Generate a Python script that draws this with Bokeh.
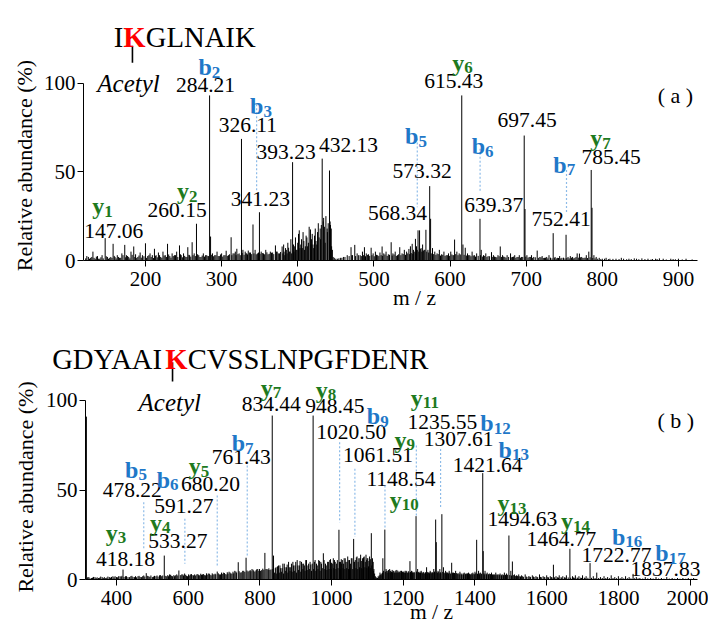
import math
from bokeh.plotting import figure
from bokeh.models import ColumnDataSource, Label, FixedTicker, Range1d
from bokeh.layouts import column
from bokeh.embed import file_html
from bokeh.resources import INLINE
from bokeh.core.properties import value

FONT = "Liberation Serif"
BLUE = "#1f78c8"
GREEN = "#1e7a1e"
DASH = "#8dbbe8"

# ---------------- panel (a) data ----------------
top_mz = [
    125, 128, 131, 134, 137, 140, 143, 147.06, 150, 153,
    157.5, 160, 163, 166, 169, 172.8, 175, 178, 181, 184.6,
    187, 190, 193, 196, 200, 203, 206, 209, 211.8, 214,
    217, 220, 223, 226, 229, 232, 235, 238, 241, 244.7,
    247, 250, 253, 255.6, 258, 261.3, 264, 267, 270, 273,
    276, 279, 282, 284.21, 285.5, 288, 291, 294, 297, 300,
    303, 306, 309, 312.5, 315, 318, 320, 323, 326.11, 328,
    331, 333, 335, 338, 341.23, 344, 347, 349.7, 352, 355,
    358, 361, 364, 367, 370.7, 373, 376, 379.5, 382, 385,
    388, 390, 393.23, 396, 398, 400, 402, 404, 406, 408,
    410, 412, 414, 416.7, 418, 420, 422, 424, 426, 428,
    429.5, 431, 432.13, 433.5, 435, 437, 438.6, 440, 441.7, 443,
    444, 445.5, 448, 452, 456, 460, 465, 470, 472, 474.9,
    478, 482, 485, 487.6, 490, 493, 496.4, 499, 502, 505,
    508, 510.8, 513, 516, 519, 522.7, 525, 528, 531, 534,
    537, 540, 543, 546, 548, 550.3, 552, 554.6, 556, 558,
    560, 562, 564, 566, 568.34, 571, 573.32, 574.5, 577, 580,
    583, 586, 589, 592, 595, 598, 601, 604, 606, 609,
    612, 615.43, 617, 620, 623, 626, 629, 632, 635, 639.37,
    641, 644, 647, 650, 654.5, 657, 660, 663, 666, 669,
    672, 675, 679.5, 682, 685, 688, 691, 694, 697.45, 698.5,
    701, 704, 707, 710, 714.5, 718, 721, 724, 727, 730,
    735.5, 738, 741, 744, 747, 752.41, 755, 758, 761, 764,
    767, 770, 773, 776, 779, 782.3, 785.45, 786.5, 789, 792,
    796, 800, 805, 810, 818, 825, 835, 845, 852, 860,
    870, 880, 890, 900, 910, 866, 875, 893, 842, 828,
]
top_int = [
    2, 1.5, 5, 1, 2.5, 1, 3, 12.6, 2, 1.5,
    9.4, 2, 3, 1.5, 4, 8.8, 3, 2, 5, 7.9,
    3.5, 2, 4.5, 3, 9.7, 2.5, 4, 3, 6.6, 3,
    4.5, 2, 5, 3, 9.4, 2.5, 4, 3, 5, 8.5,
    3, 4, 2, 7.5, 3, 10.3, 4, 20.7, 3, 2,
    4, 3, 2.5, 93, 13.5, 4, 3, 5, 2.5, 4,
    3, 5.5, 3, 13.1, 4, 5, 6.6, 4, 68.5, 6,
    5, 4, 5.6, 4.5, 20.3, 6, 4, 27.2, 5, 4,
    6, 3.5, 5, 4.5, 8.5, 5, 4, 7.9, 5, 6,
    7.2, 5, 55.4, 8, 6, 10, 17, 9, 7, 11,
    8, 13, 10, 17.5, 12, 9, 14, 11, 16, 13,
    18, 20, 57.4, 22, 19, 25, 18, 21, 50.7, 20,
    18, 6, 1.5, 1, 1.5, 2, 3, 7.5, 3, 8.8,
    4, 3, 5, 7.5, 4, 3.5, 7.2, 4, 5, 3,
    4.5, 7.9, 4, 5, 3.5, 10.3, 4, 5, 3, 7.5,
    4, 6, 5, 6.5, 8, 9.4, 6, 12.2, 8, 17,
    17, 7, 9, 6, 17.3, 6, 41.9, 23.5, 7, 5,
    4, 6, 3.5, 5, 3, 4, 5, 3, 11.8, 5,
    4, 93, 9, 7.2, 4, 3, 5, 3, 4, 23.5,
    6, 3, 4, 2.5, 4.7, 3, 2, 3, 7.9, 3,
    2, 3, 4, 2, 3, 2, 3, 2, 70.4, 29,
    3, 2, 3, 2, 5.6, 2, 2.5, 1.5, 2, 3,
    15.4, 2, 1.5, 2.5, 1.5, 14.5, 2, 2.5, 2, 1.5,
    4, 3.9, 2, 1.5, 3, 5, 51, 29.7, 3, 2,
    1.5, 1, 1.5, 1, 1, 1.5, 1, 1, 1.2, 1,
    1, 1, 1, 1, 1, 0.8, 1.2, 0.8, 1.2, 1,
]
# low-level background lines of spectrum (a), (m/z, %)
top_noise = [
    (121.5, 1.2), (123, 2.5), (126.5, 1), (129.5, 2), (132.5, 1.5), (135.5, 2.2), (138.5, 1),
    (141.5, 1.8), (144.5, 1.2), (148.5, 2.4), (151.5, 1), (154.5, 2), (156, 1.4), (159, 2.6),
    (161.5, 1.2), (164.5, 2), (167.5, 1.5), (170.5, 3), (174, 1.8), (176.5, 2.5), (179.5, 1.2),
    (182.5, 3.2), (186, 2), (188.5, 1.5), (191.5, 2.8), (194.5, 1.6), (198, 2.4), (201.5, 1.5),
    (204.5, 3), (207.5, 2), (210.5, 1.4), (213, 2.6), (215.5, 1.8), (218.5, 3), (221.5, 1.5),
    (224.5, 2.8), (227.5, 2), (230.5, 3.4), (233.5, 1.6), (236.5, 2.5), (239.5, 3), (242.5, 2),
    (246, 3.5), (248.5, 1.8), (251.5, 2.6), (254.5, 2), (257, 3.2), (259.5, 2.2), (262.5, 3),
    (265.5, 2.5), (268.5, 3.5), (271.5, 2), (274.5, 2.8), (277.5, 2.2), (280.5, 3), (283, 2.5),
    (286.5, 3.2), (289.5, 2.4), (292.5, 3), (295.5, 2.5), (298.5, 3.4), (301.5, 2.2), (304.5, 3),
    (307.5, 2.6), (310.5, 3.5), (313.5, 3), (316.5, 4), (319, 3), (321.5, 3.6), (324.5, 3),
    (327, 4.2), (329.5, 3.2), (332, 4), (334, 3.4), (336.5, 4.5), (339.5, 3.6), (342.5, 4),
    (345.5, 3.5), (348.5, 4.5), (350.5, 3.8), (353.5, 4.2), (356.5, 3.5), (359.5, 4.6),
    (362.5, 3.8), (365.5, 4.4), (368.5, 3.6), (372, 5), (374.5, 4), (377.5, 4.8),
    (380.5, 4), (381.5, 9), (383, 3), (384, 7), (386, 4), (387, 10), (389, 5), (391, 12),
    (392, 4), (394.5, 9), (395, 5), (397, 13), (399, 6), (401, 15), (403, 7), (405, 12),
    (407, 16), (409, 6), (411, 14), (413, 8), (415, 19), (417.5, 9), (419, 15), (421, 7),
    (423, 18), (425, 9), (427, 21), (430, 12), (434, 24), (436, 10), (439, 16), (442.5, 22),
    (444.5, 8),
    (446.5, 2), (450, 1), (454, 1.2), (458, 1.5), (462, 2), (467.5, 2.5), (471, 3), (476, 2.5),
    (480, 3), (483.5, 2.5), (486.5, 3), (489, 2.4), (491.5, 3.2), (494.5, 2.6), (497.5, 3),
    (500.5, 2.4), (503.5, 3.2), (506.5, 2.5), (509.5, 3), (511.5, 2.6), (514.5, 3.4),
    (517.5, 2.6), (520.5, 3.2), (524, 2.8), (526.5, 3.4), (529.5, 2.6), (532.5, 3.5),
    (535.5, 3), (538.5, 3.6), (541.5, 3.2), (544.5, 4), (547, 3.6), (549, 4.2), (551, 3.8),
    (553, 5), (555, 4.5), (557, 6), (559, 5), (561, 6.5), (563, 5), (565, 5.5), (567, 6),
    (569.5, 5), (572, 4.5), (576, 4), (578.5, 3.6), (581.5, 3.2), (584.5, 3.6), (587.5, 2.8),
    (590.5, 3.2), (593.5, 2.6), (596.5, 3), (599.5, 2.6), (602.5, 3.4), (605, 3), (607.5, 3.6),
    (610.5, 3), (613.5, 3.4), (618.5, 3.2), (621.5, 2.8), (624.5, 3), (627.5, 2.4),
    (630.5, 2.8), (633.5, 2.2), (637, 2.6), (640, 3), (642.5, 2.2), (645.5, 2.6), (648.5, 2),
    (652, 2.4), (655.5, 2), (658.5, 2.2), (661.5, 1.8), (664.5, 2.4), (667.5, 2), (670.5, 2.2),
    (673.5, 1.6), (677, 2), (680.5, 1.8), (683.5, 2.2), (686.5, 1.5), (689.5, 2), (692.5, 1.6),
    (695.5, 2), (699.5, 2.2), (702.5, 1.6), (705.5, 2), (708.5, 1.5), (712, 1.8), (716, 1.5),
    (719.5, 1.8), (722.5, 1.4), (725.5, 1.6), (728.5, 1.2), (732, 1.6), (734, 1.2), (737, 1.5),
    (739.5, 1.2), (742.5, 1.4), (745.5, 1.2), (749, 1.6), (751, 1.2), (753.5, 1.4),
    (756.5, 1.2), (759.5, 1.6), (762.5, 1.2), (765.5, 2), (768.5, 1.6), (771.5, 1.8),
    (774.5, 1.4), (777.5, 1.6), (780.5, 1.4), (784, 1.8), (787.5, 1.4), (790.5, 1.2), (794, 1),
    (798, 0.8), (803, 1), (808, 0.8), (814, 0.9), (822, 0.8), (832, 0.7), (838, 0.8),
    (848, 0.7), (856, 0.8), (864, 0.6), (872, 0.8), (884, 0.6), (896, 0.7), (905, 0.6),
    (918, 0.6),
]
top_xticks = [200, 300, 400, 500, 600, 700, 800, 900]

top_num_text = ["147.06", "260.15", "284.21", "326.11", "341.23", "393.23", "432.13",
                "568.34", "573.32", "615.43", "639.37", "697.45", "752.41", "785.45"]
top_num_x = [158.4, 241.6, 278.8, 334.4, 351, 384.8, 466.6, 531, 563.4, 604.9, 657.4, 701.3, 746, 811.6]
top_num_y = [16.9, 28.2, 98.6, 76.1, 34.4, 61, 64.8, 26.6, 50.7, 101.4, 31.5, 79.4, 23.5, 58.2]

top_ion_letter = ["y", "y", "b", "b", "b", "y", "b", "y", "b"]
top_ion_sub = ["1", "2", "2", "3", "5", "6", "6", "7", "7"]
top_ion_x = [130.1, 241.4, 269.5, 337.4, 541, 603, 628.4, 784.2, 735.7]
top_ion_y = [30.5, 39, 109, 87, 70, 111.3, 64.3, 69, 54]

top_dash_x = [346, 557, 639.5, 753]
top_dash_top = [88, 68.7, 63, 51]
top_dash_bot = [39.4, 30, 39, 26.3]

# ---------------- panel (b) data ----------------
bot_mz = [
    316, 320, 330, 340, 350, 360, 370, 380, 390, 400,
    410, 418.18, 425, 432, 440, 450, 460, 470, 483, 490,
    500, 510, 520, 533.27, 540, 548, 556, 565, 574, 582,
    590, 598, 606, 615, 624, 632, 640, 648, 656, 664,
    672, 681, 690, 698, 706, 714, 722, 730, 739.6, 745,
    752, 761.43, 770, 778, 786, 794, 802, 813.9, 820, 828,
    834.44, 838, 845, 852, 858, 864, 870, 876, 882, 888,
    894, 900, 906, 912, 918, 924, 930, 936, 942, 948.45,
    952, 958, 964, 970, 977, 983, 989, 995, 1000, 1004.8,
    1010, 1016, 1020.5, 1025, 1030, 1035, 1040, 1045, 1050, 1055,
    1061.51, 1066, 1071, 1076, 1081, 1086, 1091, 1096, 1101, 1106,
    1110.8, 1114, 1118, 1122, 1126, 1130, 1135, 1140, 1143, 1148.54,
    1152, 1157, 1162, 1167, 1172, 1177, 1182, 1188, 1193, 1198,
    1203, 1208, 1213, 1218.6, 1223, 1228, 1235.55, 1240, 1245, 1250,
    1255, 1260, 1265, 1270, 1275, 1280, 1285, 1290.3, 1292, 1297,
    1302, 1307.61, 1312, 1318, 1323, 1328, 1335, 1340, 1346, 1352,
    1358, 1364, 1370, 1376, 1382, 1388, 1394, 1400, 1404.7, 1410,
    1415, 1421.64, 1423, 1428, 1434, 1440, 1446, 1452, 1458, 1464,
    1470, 1476, 1482, 1488, 1494.63, 1500, 1504.3, 1510, 1516, 1522,
    1530, 1540, 1550, 1560, 1570, 1580, 1590, 1600, 1610, 1618.8,
    1626, 1635, 1645, 1655, 1664.77, 1672, 1680, 1690, 1700, 1710,
    1721, 1730, 1739.7, 1750, 1760, 1770, 1780, 1790, 1800, 1810,
    1820, 1830, 1841, 1850, 1860, 1875, 1890, 1905, 1920, 1935,
    1950, 1965, 1980, 1995, 2010, 1028, 1063, 1098, 1133, 1183,
]
bot_int = [
    91, 1.5, 1, 1.5, 1, 1.5, 1, 1.5, 2, 1.5,
    2, 5.7, 2, 1.5, 2, 1.5, 2, 1.5, 3.7, 2,
    1.5, 2, 2.5, 13.5, 2, 3, 2, 2.5, 5.2, 3,
    3.5, 2, 3, 2.5, 3, 2.5, 3, 2.5, 3.5, 2.5,
    3, 4.6, 3, 4, 3, 4.5, 3.5, 5, 9.8, 4,
    5, 12.3, 5, 6, 4.5, 6, 5, 15, 6, 5.5,
    91.6, 13.5, 7, 8, 6.5, 9, 7, 8.5, 7, 9,
    8, 10, 8, 10.5, 9, 8, 11, 9, 8.5, 91.6,
    10, 9, 11, 10, 14.8, 9, 10, 11, 9.5, 12,
    10, 11, 27.9, 10, 11, 12, 10, 13, 11, 12,
    22.8, 11, 13, 12, 14, 12, 13, 14, 12, 13,
    26, 12, 6, 2, 1, 2, 4, 3.5, 12, 28,
    6, 5, 6, 4.5, 5, 4, 5.5, 4, 5, 4.5,
    4, 5, 4, 10.4, 5, 4, 35.5, 6, 4, 5,
    4, 3.5, 7, 4, 5, 4, 6, 33.6, 21, 5,
    6, 36.6, 7, 5, 4, 5, 9.5, 4, 5, 3.5,
    4.5, 3, 4, 3.5, 4, 3, 4, 4.5, 22.3, 5,
    4, 59.5, 16, 5, 4, 3.5, 4, 3, 4, 3,
    3.5, 3, 4, 3.5, 24.7, 5, 10.2, 3, 2.5, 3,
    2.5, 3, 2, 2.5, 2, 3, 2, 2.5, 2, 8.4,
    2, 2.5, 2, 2.5, 17.3, 2, 2.5, 2, 2.5, 2,
    9.3, 2, 4, 1.5, 2, 1.5, 2.5, 1.5, 2, 1.5,
    2, 1.5, 3.3, 1.5, 1, 1.5, 1, 1.5, 1, 1.5,
    1, 1, 1, 1, 1, 9, 10, 11, 2.5, 4,
]
# low-level background lines of spectrum (b), (m/z, %)
bot_noise = [
    (318, 1), (323, 1.5), (326, 0.8), (333, 1.2), (336, 1.6), (343, 1), (346, 1.4), (353, 1.2),
    (356, 1.8), (363, 1), (366, 1.5), (373, 1.2), (376, 1.8), (383, 1.2), (386, 1.6), (393, 1.4),
    (396, 2), (403, 1.4), (406, 2), (413, 1.6), (415, 2.2), (421, 1.6), (428, 2), (436, 1.5),
    (443, 2.2), (446, 1.6), (453, 2), (456, 1.4), (463, 2.2), (466, 1.6), (473, 2), (476, 2.4),
    (479, 1.8), (486, 2.2), (493, 1.6), (496, 2.4), (503, 1.8), (506, 2.2), (513, 2.4),
    (516, 1.8), (523, 2.6), (526, 2), (529, 2.4), (536, 2.2), (543, 2.6), (545, 2), (551, 2.8),
    (553, 2.2), (560, 2.6), (562, 2), (568, 3), (571, 2.4), (578, 2.6), (585, 3), (587, 2.4),
    (593, 2.8), (595, 2.2), (601, 3), (603, 2.4), (609, 3.2), (611, 2.6), (618, 3), (620, 2.4),
    (627, 3.2), (629, 2.6), (635, 3.4), (637, 2.8), (643, 3.2), (645, 2.6), (651, 3.6),
    (653, 2.8), (659, 3.4), (661, 2.8), (667, 3.6), (669, 3), (675, 3.4), (677, 3), (684, 3.6),
    (687, 3), (693, 4), (695, 3.2), (701, 3.8), (703, 3.2), (709, 4.2), (711, 3.4), (717, 4),
    (719, 3.4), (725, 4.5), (727, 3.6), (733, 4.6), (735, 4), (742, 4.8), (748, 4.2), (755, 5),
    (758, 4.4), (764, 5.2), (767, 4.6), (773, 5.4), (775, 4.8), (781, 5.6), (783, 5), (789, 5.2),
    (791, 5.8), (797, 5), (799, 6), (805, 5.4), (808, 6.2), (811, 5.6), (817, 6), (823, 5.6),
    (825, 6.4), (831, 5.8), (836, 6),
    (841, 4), (843, 6.5), (847, 3.5), (849, 7.5), (854, 4), (856, 8), (860, 4.5), (862, 6.5),
    (866, 3.5), (868, 9), (872, 5), (874, 7), (878, 4), (880, 10), (884, 5), (886, 7),
    (890, 4.5), (892, 10), (896, 5), (898, 8), (902, 4), (904, 11), (908, 5.5), (910, 8),
    (914, 4.5), (916, 10), (920, 6), (922, 9), (926, 5), (928, 11), (932, 5.5), (934, 8),
    (938, 6), (940, 10), (944, 5), (946, 9), (950, 6), (954, 11), (956, 5), (960, 8),
    (962, 6), (966, 10.5), (968, 5), (972, 9), (974, 6.5), (979, 11), (981, 6), (985, 8),
    (987, 5.5), (991, 10), (993, 6), (997, 11.5), (999, 6), (1002, 9), (1006, 6.5), (1008, 11),
    (1012, 6), (1014, 9), (1018, 6.5), (1022, 10), (1024, 6), (1027, 11.5), (1032, 6.5),
    (1033, 9), (1037, 6), (1038, 12), (1042, 6.5), (1043, 10), (1047, 6), (1048, 11),
    (1052, 6.5), (1053, 9), (1057, 12), (1059, 6), (1063.5, 10), (1068, 6.5), (1069, 12.5),
    (1073, 6), (1074, 10), (1078, 7), (1079, 12), (1083, 6.5), (1084, 10.5), (1088, 6),
    (1089, 12.5), (1093, 7), (1094, 10), (1098.5, 6.5), (1099, 12), (1103, 7.5), (1104, 10.5),
    (1108, 6.5), (1109, 11.5), (1112, 8), (1116, 10), (1117, 5), (1120, 3.5), (1124, 1.5),
    (1128, 1), (1132, 1.5), (1137, 3), (1138, 2.5), (1142, 4), (1145, 5),
    (1150, 4.5), (1154, 5), (1155, 4), (1159, 5.5), (1160, 4), (1164, 5), (1165, 4),
    (1169, 5.5), (1170, 4.2), (1174, 4.8), (1175, 4), (1179, 5.2), (1180, 4), (1185, 5),
    (1186, 4.2), (1190, 4.6), (1191, 4), (1195, 5), (1196, 4), (1200, 4.6), (1201, 4),
    (1205, 5), (1206, 4), (1210, 4.6), (1211, 3.8), (1215, 4.8), (1216, 4), (1220, 4.4),
    (1221, 3.8), (1225, 4.6), (1226, 3.8), (1230, 4.4), (1232, 4), (1237, 4.6), (1238, 4),
    (1242, 4.4), (1243, 3.8), (1247, 4.6), (1248, 3.8), (1252, 4.2), (1253, 3.6), (1257, 4.4),
    (1258, 3.6), (1262, 4.2), (1263, 3.6), (1267, 4.4), (1268, 3.6), (1272, 4.2), (1273, 3.6),
    (1277, 4.4), (1278, 3.6), (1282, 4.2), (1283, 3.8), (1287, 4.6), (1288, 3.8), (1294, 4.4),
    (1295, 3.8), (1299, 4.4), (1300, 3.6), (1304, 4.2), (1305, 3.6), (1310, 4.4), (1314, 4),
    (1316, 3.6), (1320, 4.2), (1321, 3.6), (1325, 4), (1326, 3.4), (1330, 4), (1332, 3.4),
    (1337, 4), (1338, 3.4), (1343, 3.8), (1344, 3.2), (1349, 3.8), (1350, 3.2), (1355, 3.6),
    (1356, 3), (1361, 3.6), (1362, 3), (1367, 3.6), (1368, 3), (1373, 3.4), (1374, 3),
    (1379, 3.6), (1380, 3), (1385, 3.4), (1386, 3), (1391, 3.6), (1392, 3), (1397, 3.4),
    (1398, 3), (1402, 3.6), (1407, 3.4), (1412, 3.6), (1413, 3), (1418, 3.4), (1425, 3.6),
    (1426, 3), (1431, 3.4), (1432, 3), (1437, 3.2), (1438, 2.8), (1443, 3.2), (1444, 2.8),
    (1449, 3), (1450, 2.6), (1455, 3), (1456, 2.6), (1461, 3), (1462, 2.6), (1467, 3),
    (1468, 2.6), (1473, 2.8), (1474, 2.4), (1479, 2.8), (1480, 2.4), (1485, 2.8), (1486, 2.4),
    (1491, 2.8), (1497, 2.6), (1502, 2.4), (1507, 2.6), (1512, 2.2), (1514, 2), (1519, 2.2),
    (1520, 1.8), (1525, 2), (1527, 1.8), (1533, 2), (1535, 1.6), (1543, 1.8), (1545, 1.6),
    (1553, 1.8), (1555, 1.5), (1563, 1.8), (1565, 1.5), (1573, 1.6), (1575, 1.4), (1583, 1.6),
    (1585, 1.4), (1593, 1.6), (1595, 1.4), (1603, 1.5), (1605, 1.3), (1613, 1.5), (1615, 1.3),
    (1622, 1.4), (1630, 1.4), (1633, 1.2), (1640, 1.4), (1642, 1.2), (1650, 1.4), (1652, 1.2),
    (1660, 1.3), (1667, 1.2), (1675, 1.3), (1677, 1.1), (1685, 1.2), (1687, 1.1), (1695, 1.2),
    (1697, 1), (1705, 1.2), (1707, 1), (1715, 1.1), (1725, 1.1), (1735, 1), (1745, 1),
    (1755, 1), (1765, 1), (1775, 0.9), (1785, 1), (1795, 0.9), (1805, 0.9), (1815, 0.8),
    (1825, 0.9), (1835, 0.8), (1845, 0.8), (1855, 0.8), (1868, 0.7), (1882, 0.8), (1897, 0.7),
    (1912, 0.7), (1927, 0.6), (1942, 0.7), (1957, 0.6), (1972, 0.6), (1988, 0.6), (2003, 0.6),
    (2016, 0.5),
]
bot_xticks = [400, 600, 800, 1000, 1200, 1400, 1600, 1800, 2000]

bot_num_text = ["418.18", "478.22", "533.27", "591.27", "680.20", "761.43", "834.44", "948.45",
                "1020.50", "1061.51", "1148.54", "1235.55", "1307.61", "1421.64", "1494.63",
                "1464.77", "1722.77", "1837.83"]
bot_num_x = [425.1, 443.8, 571.1, 587.8, 662.3, 748, 831.8, 1009, 1055, 1129.3, 1193.5, 1309,
             1354.5, 1435.4, 1532.3, 1641.1, 1794.6, 1931.4]
bot_num_y = [11.7, 50.2, 21.5, 41.4, 53.5, 68.4, 98.2, 97.2, 82.3, 69.7, 56.3, 87.9, 78.6, 64.3,
             34, 22.9, 13.6, 6.1]

bot_ion_letter = ["y", "b", "y", "b", "y", "b", "y", "y", "b", "y", "y", "y", "b", "b", "y", "y", "b", "b"]
bot_ion_sub = ["3", "5", "4", "6", "5", "7", "7", "8", "9", "9", "10", "11", "12", "13", "13", "14", "16", "17"]
bot_ion_x = [369.9, 424, 493.5, 512.2, 601.5, 721.5, 802.5, 956, 1098.3, 1175.3, 1162.5, 1221,
             1414.8, 1465.9, 1462.8, 1639.7, 1782, 1903.2]
bot_ion_y = [26.1, 61.3, 31.7, 55.8, 63.3, 76.2, 107, 106, 91.1, 78.1, 44.7, 101.4, 87.3, 72.5,
             42.8, 32.6, 24.1, 14.8]

bot_dash_x = [476, 590.7, 681, 764.7, 1022.4, 1065, 1148.9, 1236.4, 1304]
bot_dash_top = [43.3, 34, 47, 63.7, 76.7, 62, 52.6, 74.9, 73]
bot_dash_bot = [17.3, 8.9, 8, 12.6, 32, 23.8, 28.4, 35.9, 40.5]

# sequence header texts
top_seq = ["I", "K", "GLNAIK"]
bot_seq = ["GDYAAI", "K", "CVSSLNPGFDENR"]
SEQ_SIZE = 28.7
TIMES_W = {"G": .722, "D": .722, "Y": .722, "A": .722, "I": .333, "L": .611, "N": .722,
           "C": .667, "V": .722, "S": .556, "P": .556, "F": .556, "E": .611, "R": .667, "K": .722}
K_BOLD = .778
ION_SIZE = 24
SUB_SIZE = 17


def make_panel(height, xr, yr, xbounds, mz, inten, noise, xticks, num_text, num_x, num_y,
               ion_letter, ion_sub, ion_x, ion_y, dx, dtop, dbot, seq, seq_xy, ktick,
               acetyl_xy, tag, tag_xy, ylab_xy, xlab_xy):
    # the frame covers the whole canvas; axes are pinned at fixed data locations
    p = figure(width=708, height=height, x_range=Range1d(*xr), y_range=Range1d(*yr),
               output_backend="svg", toolbar_location=None, min_border=0,
               min_border_left=0, min_border_right=0, min_border_top=0, min_border_bottom=0)
    p.outline_line_color = None
    p.xgrid.visible = False
    p.ygrid.visible = False
    p.background_fill_color = "white"
    p.border_fill_color = "white"

    for ax in (p.xaxis[0], p.yaxis[0]):
        ax.axis_line_color = "black"
        ax.axis_line_width = 1
        ax.major_tick_line_color = "black"
        ax.major_tick_in = 0
        ax.major_tick_out = 6
        ax.minor_tick_in = 0
        ax.minor_tick_out = 0
        ax.major_label_text_font = FONT
        ax.major_label_text_font_size = "21px"
        ax.major_label_text_color = "black"
    p.xaxis.ticker = FixedTicker(ticks=xticks)
    p.xaxis.major_label_standoff = 5
    p.xaxis.fixed_location = 0
    p.xaxis.bounds = xbounds
    p.yaxis.ticker = FixedTicker(ticks=[0, 50, 100])
    p.yaxis.bounds = (0, 100)
    p.yaxis.major_label_standoff = 2
    p.yaxis.fixed_location = xbounds[0]

    # spectrum
    nmz = [a for a, b in noise]
    nin = [b for a, b in noise]
    allmz = list(mz) + nmz
    allin = list(inten) + nin
    src = ColumnDataSource(dict(mz=allmz, i=allin, z=[0] * len(allmz)))
    p.segment(x0="mz", y0="z", x1="mz", y1="i", source=src, line_color="black", line_width=1)

    # dashed annotation lines
    dsrc = ColumnDataSource(dict(x=dx, t=dtop, b=dbot))
    p.segment(x0="x", y0="t", x1="x", y1="b", source=dsrc, line_color=DASH,
              line_width=1.2, line_dash="2 2")

    # peak m/z labels
    nsrc = ColumnDataSource(dict(x=num_x, y=num_y, t=num_text))
    p.text(x="x", y="y", text="t", source=nsrc, text_font=value(FONT), text_font_size="21.5px",
           text_align="center", text_baseline="middle", text_color="black")

    # ion labels (letter + subscript)
    colors = [BLUE if l == "b" else GREEN for l in ion_letter]
    widths = [(0.556 if l == "b" else 0.5) * ION_SIZE for l in ion_letter]
    isrc = ColumnDataSource(dict(x=ion_x, y=ion_y, l=ion_letter, s=ion_sub, c=colors, w=widths))
    p.text(x="x", y="y", text="l", source=isrc, text_font=value(FONT),
           text_font_size=f"{ION_SIZE}px", text_font_style="bold", text_color="c",
           text_align="left", text_baseline="alphabetic")
    p.text(x="x", y="y", text="s", source=isrc, text_font=value(FONT),
           text_font_size=f"{SUB_SIZE}px", text_font_style="bold", text_color="c",
           text_align="left", text_baseline="alphabetic", x_offset="w", y_offset=5)

    # sequence header with the acetylated K in red
    sx, sy = seq_xy
    off = 0.0
    for k, part in enumerate(seq):
        red = (k == 1)
        p.add_layout(Label(x=sx, y=sy, x_offset=off, text=part, text_font=FONT,
                           text_font_size=f"{SEQ_SIZE}px", text_align="left",
                           text_baseline="alphabetic",
                           text_color="#ff0000" if red else "black",
                           text_font_style="bold" if red else "normal"))
        off += (K_BOLD if red else sum(TIMES_W[c] for c in part)) * SEQ_SIZE
    p.segment(x0=[ktick[0]], y0=[ktick[1]], x1=[ktick[0]], y1=[ktick[2]],
              line_color="black", line_width=1.6)
    p.add_layout(Label(x=acetyl_xy[0], y=acetyl_xy[1], text="Acetyl", text_font=FONT,
                       text_font_size="25px", text_font_style="italic", text_align="center",
                       text_baseline="alphabetic", text_color="black"))
    p.add_layout(Label(x=tag_xy[0], y=tag_xy[1], text=tag, text_font=FONT,
                       text_font_size="22px", text_align="center", text_baseline="middle",
                       text_color="black"))
    p.add_layout(Label(x=ylab_xy[0], y=ylab_xy[1], text="Relative abundance (%)", text_font=FONT,
                       text_font_size="22px", text_align="center", text_baseline="middle",
                       angle=math.pi / 2, text_color="black"))
    p.add_layout(Label(x=xlab_xy[0], y=xlab_xy[1], text="m / z", text_font=FONT,
                       text_font_size="21.5px", text_align="center", text_baseline="alphabetic",
                       text_color="black"))
    return p


p1 = make_panel(308, (9.6, 939.5), (-27.04, 146.48), (118.6, 925), top_mz, top_int, top_noise,
                top_xticks, top_num_text, top_num_x, top_num_y, top_ion_letter, top_ion_sub,
                top_ion_x, top_ion_y, top_dash_x, top_dash_top, top_dash_bot, top_seq,
                (158.4, 125.8), (182.9, 121, 111.4), (177.7, 99.5), "( a )", (896, 93),
                (41, 53.5), (553.3, -21.4))
p2 = make_panel(313, (76.4, 2051.4), (-23.26, 151.31), (313.5, 2020.6), bot_mz, bot_int, bot_noise,
                bot_xticks, bot_num_text, bot_num_x, bot_num_y, bot_ion_letter, bot_ion_sub,
                bot_ion_x, bot_ion_y, bot_dash_x, bot_dash_top, bot_dash_bot, bot_seq,
                (220.5, 123.3), (556.3, 121.4, 110.6), (548.5, 99), "( b )", (1960, 88.8),
                (146, 51.8), (1278.6, -18.1))

layout = column(p1, p2, spacing=0)
open("out.html", "w").write(file_html(layout, INLINE))
